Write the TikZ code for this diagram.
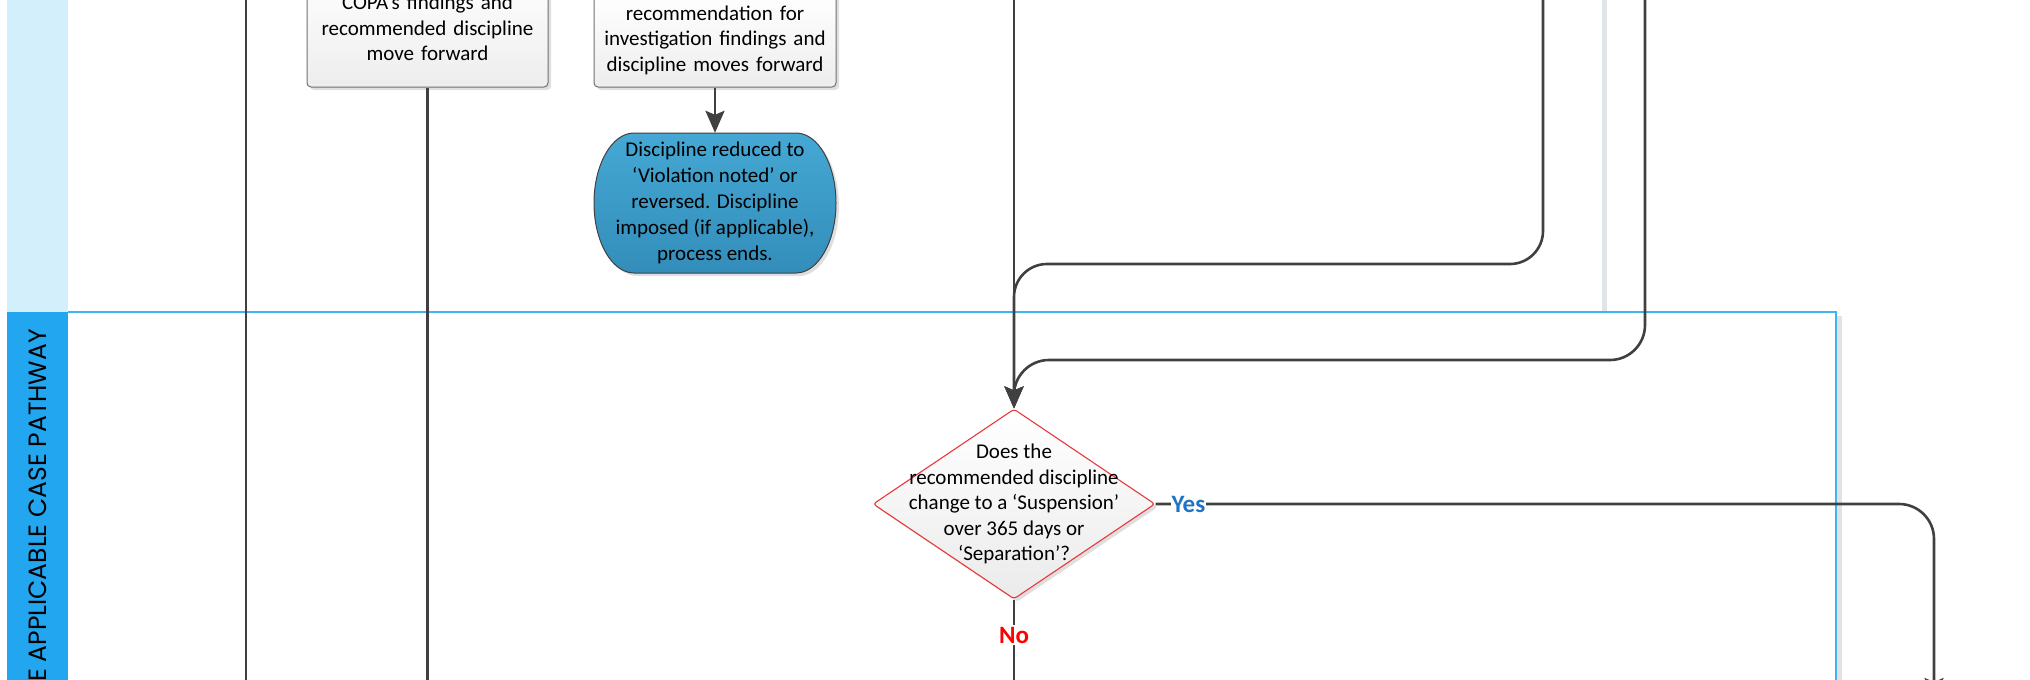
\documentclass[tikz,border=0pt]{standalone}
\usepackage{fontspec}
\setmainfont{Carlito}
\newfontfamily\lanefont{Poppins}
\usetikzlibrary{arrows.meta,shapes.geometric,shadows}
\definecolor{cline}{HTML}{404040}
\definecolor{poolblue}{HTML}{3FB4F3}
\definecolor{hdrlight}{HTML}{D4EFFC}
\definecolor{hdrdark}{HTML}{21A6EF}
\definecolor{boxedge}{HTML}{707070}
\definecolor{termtop}{HTML}{45A8D4}
\definecolor{termbot}{HTML}{338DBA}
\definecolor{decred}{HTML}{E8393C}
\definecolor{yesblue}{HTML}{1F75C4}
\definecolor{nored}{HTML}{FF0000}
\definecolor{sepgray}{HTML}{E0E5E8}
\definecolor{shadowgray}{HTML}{E2E2E2}
\newcommand\txtsize{\fontsize{21}{25.5}\selectfont}
\newcommand\termsize{\fontsize{21}{26}\selectfont}
\tikzset{
  conn/.style={draw=cline, line width=2.6pt},
  arr/.style={conn, -{Stealth[length=22pt,width=19pt,inset=4pt]}},
  softshadow/.style={drop shadow={shadow xshift=3pt, shadow yshift=-3pt, fill=black!25, opacity=.5}},
  procbox/.style={draw=boxedge, line width=1pt, rounded corners=4pt, top color=white,
    bottom color=black!7, softshadow, align=center, font=\txtsize, inner sep=0pt, text width=236pt},
  decbox/.style={shape=diamond, draw=decred, line width=1.1pt, top color=white, bottom color=black!8,
    minimum width=282pt, minimum height=190pt, inner sep=0pt, rounded corners=3pt, softshadow},
  yeslbl/.style={fill=white, text=yesblue, font=\fontsize{25}{30}\selectfont\bfseries, inner xsep=1pt, inner ysep=3pt},
  nolbl/.style={fill=white, text=nored, font=\fontsize{25}{30}\selectfont\bfseries, inner xsep=2pt, inner ysep=2pt},
}
\begin{document}
\begin{tikzpicture}[x=1pt,y=1pt]
\useasboundingbox (0,0) rectangle (2030,-680);
\clip (0,0) rectangle (2030,-680);
% lanes
\fill[hdrlight] (6.5,0) rectangle (68,-312);
\fill[hdrdark] (6.5,-312) rectangle (68,-680);
\fill[sepgray] (1602,0) rectangle (1607,-312);
\fill[shadowgray] (1837,-316) rectangle (1842,-680);
\draw[poolblue, line width=1.6pt] (68,-312) -- (1836,-312) -- (1836,-680);
\node[rotate=90, anchor=east, inner sep=0pt, font=\lanefont\fontsize{25}{29}\selectfont] (lanelbl) at (38,-329) {E APPLICABLE CASE PATHWAY};
% coordinates
\coordinate (l1top) at (246,0);
\coordinate (l1bot) at (246,-720);
\coordinate (l2bot) at (427.5,-720);
\coordinate (mtop) at (1014,0);
\coordinate (atop) at (1543,0);
\coordinate (btop) at (1645,0);
\coordinate (yend) at (1934,-700);
\coordinate (nend) at (1014,-720);
% nodes
\node[procbox, minimum width=241pt, minimum height=118pt] (b1) at (427.5,-28) {COPA’s findings and\\recommended discipline\\move forward};
\node[procbox, minimum width=242pt, minimum height=94pt] (b2) at (715,-40) {recommendation for\\investigation findings and\\discipline moves forward};
\path[draw=black!75, line width=1pt, top color=termtop, bottom color=termbot, softshadow]
  (634,-133) -- (796,-133) arc[start angle=90, end angle=-90, x radius=40, y radius=70]
  -- (634,-273) arc[start angle=270, end angle=90, x radius=40, y radius=70] -- cycle;
\node[align=center, font=\termsize, minimum width=242pt, minimum height=140pt, inner sep=0pt] (t) at (715,-203)
  {Discipline reduced to\\‘Violation noted’ or\\reversed. Discipline\\imposed (if applicable),\\process ends.};
\node[decbox] (d) at (1014,-504) {};
\node[font=\txtsize, align=center, inner sep=0pt] (dtext) at (d.center)
  {Does the\\recommended discipline\\change to a ‘Suspension’\\over 365 days or\\‘Separation’?};
% connectors
\draw[conn] (l1top) -- (l1bot);
\draw[conn] (b1.south) -- (l2bot);
\draw[arr] (b2.south) -- (t.north);
\draw[arr] (mtop) -- (d.north);
\draw[arr, rounded corners=33pt] (atop) -- (1543,-264) -- (1014,-264) -- (d.north);
\draw[arr, rounded corners=35pt] (btop) -- (1645,-360) -- (1014,-360) -- (d.north);
\draw[arr, rounded corners=35pt] (d.east) -- (1934,-504) -- (yend);
\draw[conn] (d.south) -- (nend);
\node[yeslbl] (yes) at (1188.5,-504) {Yes};
\node[nolbl] (no) at (1014,-635) {No};
\end{tikzpicture}
\end{document}
